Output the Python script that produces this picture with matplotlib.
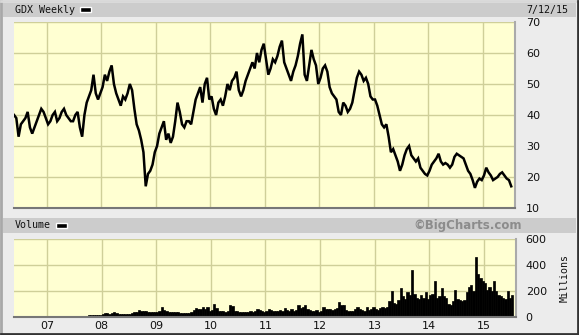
import matplotlib
matplotlib.use("Agg")
import matplotlib.pyplot as plt
from matplotlib.patches import Rectangle
from matplotlib.lines import Line2D
import numpy as np

# ---- data: semi-monthly GDX closes (May 2006 second half .. Jul 2015 first half)
price_2006 = [40, 39, 33, 37, 38, 39, 41, 36, 34, 36, 38, 40, 42, 41, 39]
price_2007 = [37, 38, 40, 41, 38, 39, 41, 42, 40, 39, 38, 38, 40, 41, 36, 33, 40, 44, 46, 48, 53, 47, 45, 47]
price_2008 = [49, 53, 51, 54, 56, 50, 47, 45, 43, 46, 45, 47, 50, 48, 42, 37, 35, 32, 28, 17, 21, 22, 24, 28]
price_2009 = [30, 34, 36, 38, 32, 34, 31, 33, 38, 44, 41, 37, 36, 38, 38, 37, 41, 45, 47, 49, 44, 50, 52, 45]
price_2010 = [46, 42, 40, 44, 45, 43, 46, 50, 48, 51, 52, 54, 48, 46, 48, 51, 53, 55, 57, 55, 60, 57, 61, 63]
price_2011 = [58, 53, 55, 58, 57, 59, 62, 64, 57, 55, 53, 51, 54, 56, 59, 63, 66, 53, 51, 56, 61, 58, 56, 50]
price_2012 = [52, 55, 56, 54, 49, 47, 46, 45, 41, 40, 44, 43, 41, 42, 44, 48, 52, 54, 53, 51, 52, 50, 46, 45]
price_2013 = [45, 43, 40, 37, 36, 37, 33, 28, 29, 27, 25, 22, 24, 27, 29, 30, 27, 26, 25, 26, 23, 22, 21, 20.5]
price_2014 = [22, 24, 25, 26, 27.5, 25, 24, 24.5, 24, 23, 24, 26.5, 27.5, 27, 26.5, 26, 24, 22, 21, 19, 16.5, 18.5, 19.5, 19]
price_2015 = [20.5, 23, 21.5, 20.5, 19, 19.5, 20, 21, 21.5, 20.5, 19.5, 19, 17]

vol_2006 = [2] * 15
vol_2007 = [2, 2, 2, 2, 2, 2, 2, 2, 2, 2, 2, 2, 2, 2, 4, 8, 8, 10, 12, 14, 18, 15, 14, 15]
vol_2008 = [25, 30, 28, 25, 30, 35, 28, 25, 20, 22, 20, 22, 25, 30, 35, 40, 55, 45, 50, 45, 40, 42, 38, 40]
vol_2009 = [40, 45, 80, 55, 45, 40, 38, 35, 40, 35, 30, 30, 30, 32, 30, 35, 55, 70, 60, 65, 75, 60, 80, 50]
vol_2010 = [55, 100, 70, 50, 45, 45, 40, 50, 90, 85, 50, 45, 40, 38, 40, 42, 40, 45, 42, 45, 65, 55, 45, 40]
vol_2011 = [50, 65, 55, 45, 50, 45, 55, 50, 70, 55, 50, 60, 50, 55, 95, 70, 75, 95, 65, 55, 50, 45, 55, 40]
vol_2012 = [45, 80, 60, 65, 60, 55, 65, 70, 115, 95, 90, 55, 50, 45, 50, 60, 75, 60, 55, 50, 75, 55, 65, 80]
vol_2013 = [60, 55, 70, 80, 70, 75, 120, 200, 110, 100, 130, 220, 160, 140, 190, 170, 360, 180, 150, 140, 170, 150, 190, 140]
vol_2014 = [170, 180, 280, 150, 160, 220, 160, 150, 100, 90, 120, 210, 140, 130, 120, 130, 190, 230, 250, 200, 465, 330, 300, 280]
vol_2015 = [260, 210, 230, 200, 280, 200, 170, 160, 150, 140, 200, 150, 170]

year_labels = ["07", "08", "09", "10", "11", "12", "13", "14", "15"]
price_ticks = [10, 20, 30, 40, 50, 60, 70]
vol_ticks = [0, 200, 400, 600]

# ---- build time axis (decimal years, half-month centres)
prices = (price_2006 + price_2007 + price_2008 + price_2009 + price_2010 +
          price_2011 + price_2012 + price_2013 + price_2014 + price_2015)
vols = (vol_2006 + vol_2007 + vol_2008 + vol_2009 + vol_2010 +
        vol_2011 + vol_2012 + vol_2013 + vol_2014 + vol_2015)
start_idx = 2006 * 24 + 9
t = np.array([(start_idx + i + 0.5) / 24.0 for i in range(len(prices))])

W, H = 579, 335
fig = plt.figure(figsize=(W / 100, H / 100), dpi=100)
fig.patch.set_facecolor("#ececec")

def fx(x): return x / W
def fy(y): return 1 - y / H

# header bars
fig.patches.append(Rectangle((fx(3), fy(17)), fx(573), 14 / H, transform=fig.transFigure,
                             facecolor="#cccccc", edgecolor="none", zorder=0))
fig.patches.append(Rectangle((fx(3), fy(233)), fx(573), 15 / H, transform=fig.transFigure,
                             facecolor="#cccccc", edgecolor="none", zorder=0))
# bevel border
fig.lines.append(Line2D([fx(1), fx(1)], [fy(333), fy(1)], transform=fig.transFigure, color="#a8a8a8", lw=2))
fig.lines.append(Line2D([fx(1), fx(577)], [fy(1), fy(1)], transform=fig.transFigure, color="#d8d8d8", lw=2))
fig.lines.append(Line2D([fx(577.5), fx(577.5)], [fy(334), fy(1)], transform=fig.transFigure, color="#333333", lw=2))
fig.lines.append(Line2D([fx(1), fx(578)], [fy(333.5), fy(333.5)], transform=fig.transFigure, color="#333333", lw=2))

mono = "DejaVu Sans Mono"
fig.text(fx(15), fy(10), "GDX Weekly", fontsize=7.2, family=mono, va="center", ha="left", color="#111111")
fig.patches.append(Rectangle((fx(80), fy(12)), fx(11), 5 / H, transform=fig.transFigure,
                             facecolor="black", edgecolor="white", lw=1))
fig.text(fx(568), fy(10), "7/12/15", fontsize=7.2, family=mono, va="center", ha="right", color="#111111")
fig.text(fx(15), fy(225.5), "Volume", fontsize=7.2, family=mono, va="center", ha="left", color="#111111")
fig.patches.append(Rectangle((fx(56), fy(228)), fx(11), 5 / H, transform=fig.transFigure,
                             facecolor="black", edgecolor="white", lw=1))
fig.text(fx(468), fy(225.5), "\u00a9BigCharts.com", fontsize=8.5, fontweight="bold",
         va="center", ha="center", color="#8c8c8c", family="DejaVu Sans")

xmin, xmax = 2006.395, 2015.59
grid_col = "#cfcf99"
bg = "#ffffd2"

ax = fig.add_axes([fx(14), fy(208), fx(501), 186 / H])
ax.set_facecolor(bg)
ax.plot(t, prices, color="black", lw=1.8, solid_joinstyle="miter")
ax.set_xlim(xmin, xmax)
ax.set_ylim(10, 70)
ax.set_yticks(price_ticks)
ax.set_xticks(np.arange(2007, 2016))
ax.grid(True, color=grid_col, lw=1)
ax.set_axisbelow(True)
ax.tick_params(axis="both", length=0)
ax.set_xticklabels([])
ax.yaxis.tick_right()
ax.tick_params(axis="y", labelsize=8, pad=8, labelcolor="#111111")
for s in ["top", "left"]:
    ax.spines[s].set_visible(False)
ax.spines["bottom"].set_color("#777777")
ax.spines["bottom"].set_linewidth(1.5)
ax.spines["right"].set_color("#aaaaaa")
ax.spines["right"].set_linewidth(1.5)

av = fig.add_axes([fx(14), fy(317), fx(502), 78 / H])
av.set_facecolor(bg)
av.bar(t, vols, width=1 / 24.0, color="black", edgecolor="black", align="center", lw=0.5)
av.set_xlim(xmin, xmax)
av.set_ylim(0, 600)
av.set_yticks(vol_ticks)
av.set_xticks(np.arange(2007, 2016))
av.set_xticklabels(year_labels)
av.grid(True, color=grid_col, lw=1)
av.set_axisbelow(True)
av.tick_params(axis="both", length=0, labelsize=8, labelcolor="#111111")
av.tick_params(axis="x", pad=3)
av.yaxis.tick_right()
av.tick_params(axis="y", pad=7)
for s in ["top", "left"]:
    av.spines[s].set_visible(False)
av.spines["bottom"].set_color("#777777")
av.spines["bottom"].set_linewidth(1.5)
av.spines["right"].set_color("#aaaaaa")
av.spines["right"].set_linewidth(1.5)
for lab in ax.get_yticklabels() + av.get_yticklabels():
    lab.set_horizontalalignment("left")

fig.text(fx(565), fy(278), "Millions", rotation=90, fontsize=7.2, family=mono,
         va="center", ha="center", color="#111111")

fig.savefig("out.png", dpi=100, facecolor=fig.get_facecolor())
